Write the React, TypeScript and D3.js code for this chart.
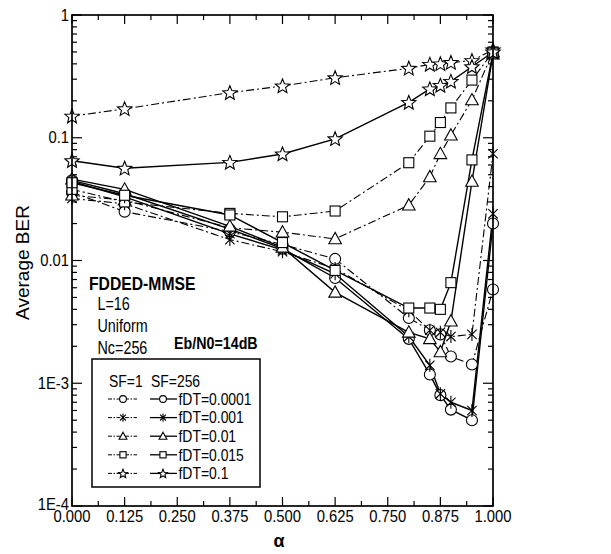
import React, { useEffect, useRef } from "react";
import * as d3 from "d3";

// alpha values where BER was simulated
const alpha = [0, 0.125, 0.375, 0.5, 0.625, 0.8, 0.85, 0.875, 0.9, 0.95, 1.0];

// SF=1 (dash-dot lines)
const sf1_0001 = [0.036, 0.025, 0.0172, 0.0135, 0.0103, 0.0034, 0.0027, 0.0025, 0.00165, 0.00142, 0.0058];
const sf1_001 = [0.032, 0.029, 0.0148, 0.0118, 0.0086, 0.0039, 0.0027, 0.0026, 0.0024, 0.0025, 0.074];
const sf1_01 = [0.034, 0.031, 0.0185, 0.017, 0.015, 0.0282, 0.048, 0.074, 0.105, 0.203, 0.5];
const sf1_015 = [0.038, 0.03, 0.0242, 0.0227, 0.0253, 0.0626, 0.103, 0.133, 0.175, 0.295, 0.5];
const sf1_1 = [0.15, 0.172, 0.233, 0.264, 0.308, 0.368, 0.396, 0.4, 0.41, 0.425, 0.52];

// SF=256 (solid lines)
const sf256_0001 = [0.045, 0.035, 0.018, 0.0125, 0.0072, 0.0023, 0.00118, 0.0008, 0.00061, 0.0005, 0.02];
const sf256_001 = [0.044, 0.033, 0.0165, 0.0122, 0.0078, 0.0024, 0.0014, 0.00082, 0.0007, 0.0006, 0.024];
const sf256_01 = [0.046, 0.038, 0.019, 0.0128, 0.0055, 0.0026, 0.0023, 0.0018, 0.0032, 0.044, 0.48];
const sf256_015 = [0.043, 0.034, 0.0235, 0.014, 0.0083, 0.0041, 0.0041, 0.004, 0.0066, 0.066, 0.49];
const sf256_1 = [0.065, 0.0564, 0.063, 0.0738, 0.098, 0.194, 0.25, 0.267, 0.288, 0.379, 0.5];

const fdtLabels = ["fDT=0.0001", "fDT=0.001", "fDT=0.01", "fDT=0.015", "fDT=0.1"];
const markers = ["circle", "asterisk", "triangle", "square", "star"];
const sf1Series = [sf1_0001, sf1_001, sf1_01, sf1_015, sf1_1];
const sf256Series = [sf256_0001, sf256_001, sf256_01, sf256_015, sf256_1];

const xTickValues = [0, 0.125, 0.25, 0.375, 0.5, 0.625, 0.75, 0.875, 1.0];
const yTickValues = [1e-4, 1e-3, 0.01, 0.1, 1];
const yTickLabels = ["1E-4", "1E-3", "0.01", "0.1", "1"];
const notes = ["L=16", "Uniform", "Nc=256"];

const FONT = '"Liberation Sans", Arial, Helvetica, sans-serif';

function drawMarker(g: any, type: string, cx: number, cy: number, s: number) {
  const sw = 1.1;
  if (type === "circle") {
    g.append("circle").attr("cx", cx).attr("cy", cy).attr("r", 5.5 * s)
      .attr("fill", "white").attr("stroke", "black").attr("stroke-width", sw);
  } else if (type === "square") {
    g.append("rect").attr("x", cx - 5 * s).attr("y", cy - 5 * s)
      .attr("width", 10 * s).attr("height", 10 * s)
      .attr("fill", "white").attr("stroke", "black").attr("stroke-width", sw);
  } else if (type === "triangle") {
    const p = d3.path();
    p.moveTo(cx, cy - 6.5 * s);
    p.lineTo(cx + 6.3 * s, cy + 4.8 * s);
    p.lineTo(cx - 6.3 * s, cy + 4.8 * s);
    p.closePath();
    g.append("path").attr("d", p.toString())
      .attr("fill", "white").attr("stroke", "black").attr("stroke-width", sw);
  } else if (type === "star") {
    const p = d3.path();
    const R = 7.5 * s, r = 3.3 * s;
    for (let k = 0; k < 10; k++) {
      const rad = k % 2 === 0 ? R : r;
      const a = -Math.PI / 2 + (k * Math.PI) / 5;
      const px = cx + rad * Math.cos(a), py = cy + 0.5 + rad * Math.sin(a);
      if (k === 0) p.moveTo(px, py); else p.lineTo(px, py);
    }
    p.closePath();
    g.append("path").attr("d", p.toString())
      .attr("fill", "white").attr("stroke", "black").attr("stroke-width", sw);
  } else if (type === "asterisk") {
    const R = 6.5 * s, d = R * 0.72;
    const p = d3.path();
    p.moveTo(cx, cy - R); p.lineTo(cx, cy + R);
    p.moveTo(cx - d, cy - d); p.lineTo(cx + d, cy + d);
    p.moveTo(cx - d, cy + d); p.lineTo(cx + d, cy - d);
    g.append("path").attr("d", p.toString())
      .attr("fill", "none").attr("stroke", "black").attr("stroke-width", sw);
  }
}

function addText(parent: any, str: string, tx: number, ty: number, size: number,
  opts: { anchor?: string; bold?: boolean; sx?: number; rotate?: number } = {}) {
  const sx = opts.sx ?? 1;
  let tr = `translate(${tx},${ty})`;
  if (opts.rotate) tr += ` rotate(${opts.rotate})`;
  tr += ` scale(${sx},1)`;
  return parent.append("text")
    .attr("transform", tr)
    .attr("text-anchor", opts.anchor || "start")
    .attr("font-family", FONT)
    .attr("font-size", size)
    .attr("font-weight", opts.bold ? "bold" : "normal")
    .attr("fill", "black")
    .text(str);
}

export default function App() {
  const ref = useRef<SVGSVGElement>(null);

  useEffect(() => {
    const W = 611, H = 554;
    const margin = { top: 15, right: 118, bottom: 48, left: 72 };
    const svg = d3.select(ref.current);
    svg.selectAll("*").remove();

    svg.append("rect").attr("width", W).attr("height", H).attr("fill", "white");

    const x = d3.scaleLinear().domain([0, 1]).range([margin.left, W - margin.right]);
    const y = d3.scaleLog().domain([1e-4, 1]).range([H - margin.bottom, margin.top]);
    const x0 = x(0), x1 = x(1), y0 = y(1e-4), y1 = y(1);

    // ticks (all pointing inwards)
    const ticks = svg.append("g").attr("stroke", "black").attr("stroke-width", 1.2);
    const xMinor = xTickValues.slice(0, -1).map((v) => v + 0.0625);
    xTickValues.forEach((v) => {
      ticks.append("line").attr("x1", x(v)).attr("x2", x(v)).attr("y1", y0).attr("y2", y0 - 9);
      ticks.append("line").attr("x1", x(v)).attr("x2", x(v)).attr("y1", y1).attr("y2", y1 + 9);
    });
    xMinor.forEach((v) => {
      ticks.append("line").attr("x1", x(v)).attr("x2", x(v)).attr("y1", y0).attr("y2", y0 - 5);
      ticks.append("line").attr("x1", x(v)).attr("x2", x(v)).attr("y1", y1).attr("y2", y1 + 5);
    });
    y.ticks().forEach((v) => {
      const major = Math.abs(Math.log10(v) - Math.round(Math.log10(v))) < 1e-6;
      const len = major ? 10 : 5;
      ticks.append("line").attr("x1", x0).attr("x2", x0 + len).attr("y1", y(v)).attr("y2", y(v));
      ticks.append("line").attr("x1", x1).attr("x2", x1 - len).attr("y1", y(v)).attr("y2", y(v));
    });

    // tick labels
    xTickValues.forEach((v) => {
      addText(svg, d3.format(".3f")(v), x(v), y0 + 16, 17, { anchor: "middle", sx: 0.87 });
    });
    yTickValues.forEach((v, i) => {
      addText(svg, yTickLabels[i], x0 - 3, y(v) + (i === 0 ? 3.5 : 5.5), 17, { anchor: "end", sx: 0.87 });
    });

    // axis titles
    addText(svg, "Average BER", 28.5, (y0 + y1) / 2 + 2, 19, { anchor: "middle", rotate: -90 });
    addText(svg, "\u03b1", 279, 547, 18, { anchor: "middle", bold: true });

    // series lines
    const line = d3.line<number>()
      .x((d, i) => x(alpha[i]))
      .y((d) => y(d));
    const lines = svg.append("g").attr("fill", "none").attr("stroke", "black");
    sf1Series.forEach((s) => {
      lines.append("path").attr("d", line(s)).attr("stroke-width", 1.1)
        .attr("stroke-dasharray", "8,3,2,3");
    });
    sf256Series.forEach((s) => {
      lines.append("path").attr("d", line(s)).attr("stroke-width", 1.4);
    });

    // markers
    const mk = svg.append("g");
    [...sf1Series, ...sf256Series].forEach((s, k) => {
      const type = markers[k % 5];
      s.forEach((v, i) => drawMarker(mk, type, x(alpha[i]), y(v), 1));
    });

    // frame
    svg.append("rect").attr("x", x0).attr("y", y1).attr("width", x1 - x0).attr("height", y0 - y1)
      .attr("fill", "none").attr("stroke", "black").attr("stroke-width", 1.7);

    // annotations
    addText(svg, "FDDED-MMSE", 89, 290, 18.5, { bold: true, sx: 0.85 });
    notes.forEach((t, i) => addText(svg, t, 97.5, 309.5 + i * 22, 17.5, { sx: 0.82 }));
    addText(svg, "Eb/N0=14dB", 174, 348.5, 17, { bold: true, sx: 0.84 });

    // legend
    const lg = svg.append("g");
    lg.append("rect").attr("x", 92).attr("y", 359).attr("width", 168).attr("height", 128)
      .attr("fill", "white").attr("stroke", "black").attr("stroke-width", 1.5);
    addText(lg, "SF=1", 109, 386.5, 16, { sx: 0.87 });
    addText(lg, "SF=256", 151, 386.5, 16, { sx: 0.87 });
    fdtLabels.forEach((lab, i) => {
      const cy = 399 + i * 18.6;
      lg.append("line").attr("x1", 108).attr("x2", 137).attr("y1", cy).attr("y2", cy)
        .attr("stroke", "black").attr("stroke-width", 1).attr("stroke-dasharray", "4,1.5,1.5,1.5");
      drawMarker(lg, markers[i], 123, cy, 0.62);
      lg.append("line").attr("x1", 150).attr("x2", 177).attr("y1", cy).attr("y2", cy)
        .attr("stroke", "black").attr("stroke-width", 1.3);
      drawMarker(lg, markers[i], 163, cy, 0.62);
      addText(lg, lab, 178.5, cy + 5.8, 16, { sx: 0.87 });
    });
  }, []);

  return (
    <svg ref={ref} width={611} height={554}
      style={{ position: "absolute", left: 0, top: 0, background: "white" }} />
  );
}
